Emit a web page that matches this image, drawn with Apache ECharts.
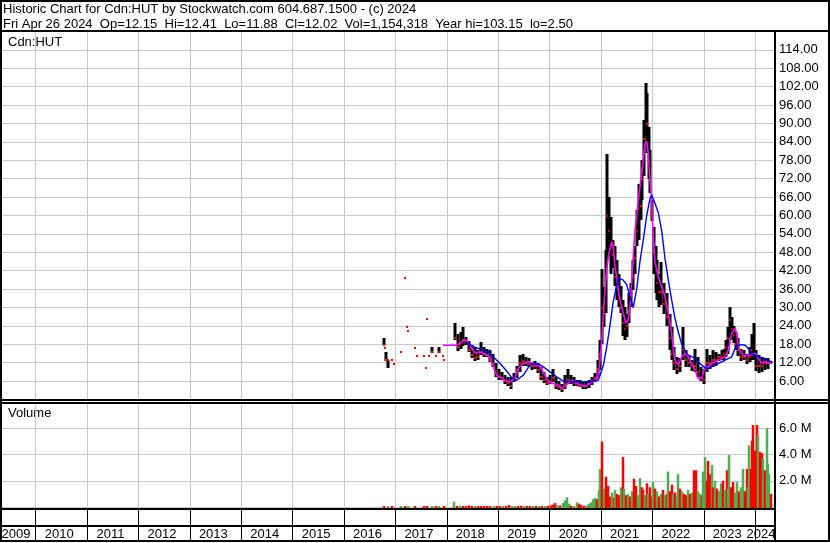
<!DOCTYPE html>
<html><head><meta charset="utf-8">
<script src="https://cdn.jsdelivr.net/npm/echarts@6/dist/echarts.min.js"></script>
<style>html,body{margin:0;padding:0;background:#fff}#c{width:830px;height:543px}</style>
</head><body><div id="c"></div>
<script>
// ---------------- DATA ----------------
const yearTicks = [2009,2010,2011,2012,2013,2014,2015,2016,2017,2018,2019,2020,2021,2022,2023,2024];
const priceTickLabels = [6,12,18,24,30,36,42,48,54,60,66,72,78,84,90,96,102,108,114];
const volTickLabels = [2,4,6];

// price bars: date (decimal year), low, high, close
const barDates = [2016.786,2016.799,2016.813,2016.852,2016.863,2016.930,2016.984,2017.111,2017.188,2017.221,2017.253,2017.383,2017.416,2017.558,2017.597,2017.617,2017.655,2017.720,2017.786,2017.850,2017.922,2017.947,
2018.162,2018.220,2018.278,2018.317,2018.376,2018.434,2018.492,2018.551,2018.609,2018.668,2018.726,2018.784,2018.843,2018.901,2018.960,
2019.018,2019.076,2019.135,2019.193,2019.251,2019.310,2019.368,2019.427,2019.485,2019.543,2019.602,2019.660,2019.719,2019.777,2019.835,2019.894,2019.952,
2020.011,2020.069,2020.127,2020.186,2020.244,2020.302,2020.361,2020.419,2020.478,2020.536,2020.594,2020.653,2020.711,2020.769,2020.828,2020.886,2020.945,2020.984,
2021.023,2021.062,2021.101,2021.130,2021.159,2021.198,2021.237,2021.276,2021.315,2021.354,2021.393,2021.431,2021.470,2021.509,2021.548,2021.587,2021.626,2021.665,2021.704,2021.743,2021.782,2021.811,2021.840,2021.879,2021.908,2021.937,2021.966,2021.995,
2022.034,2022.073,2022.103,2022.132,2022.171,2022.229,2022.287,2022.346,2022.385,2022.424,2022.482,2022.541,2022.599,2022.657,2022.716,2022.774,2022.833,2022.891,2022.949,
2023.008,2023.066,2023.124,2023.183,2023.241,2023.300,2023.358,2023.397,2023.436,2023.475,2023.514,2023.553,2023.592,2023.631,2023.670,2023.728,2023.787,2023.845,2023.903,2023.942,2023.981,
2024.020,2024.079,2024.137,2024.195,2024.254,2024.320];
const barLow = [17.7,16.7,12.6,13.0,10.4,13.0,11.5,15.5,39.7,23.7,22.4,16.8,14.3,14.3,10.4,26.3,14.3,15.0,14.3,15.2,14.3,12.9,
19.4,16.1,16.5,17.2,17.7,15.5,13.5,12.3,12.8,14.5,13.9,13.9,12,10.7,7.4,
6.5,6.3,5.2,4.5,3.6,5.5,7,9,11.2,11,10.5,9.6,10,8.5,6.3,5.5,4.7,
5,5.8,3.5,3.1,2.5,3.5,5,5,4.5,4.5,3.9,3.6,3.5,4,4.7,5.5,7.4,9.6,
18.3,23.7,28.1,45.5,47,41.1,43,36.8,32.4,30.2,28.1,20.5,19.4,20.5,24.8,30.2,35.7,41,49.8,52,58.5,65,72.6,85.7,80.2,72,67.2,58,
41.1,34.6,32.4,30.2,31,28,23.7,16.1,12.8,9.6,8.5,9,12.8,10.7,10.7,9.5,9,7.4,6,
5.2,9,10,10.5,11,12.8,12.8,12.8,13.9,15,20,19.4,18.3,16,14,12.8,12.8,11.8,12,13,12.8,
9,8.5,9,9.5,9.8,11.88];
const barHigh = [19.9,16.7,15.5,13.0,13.0,13.0,11.5,15.5,39.7,23.7,22.4,16.8,14.3,14.3,10.4,26.3,14.3,17.0,14.3,17.0,14.3,12.9,
25.1,21.5,22,23.5,20.4,19,17.7,17,16.1,18.8,17,16.6,16,15,12,
10,9,8,7.5,7.4,8.5,11,14.5,15,14,13.4,12.3,12.5,11.8,10.7,9,7.4,
8,10.1,7.4,6,5.2,8,10,8,7.5,6.5,6.3,5.8,5.8,6.5,7.4,8.5,12.8,19.4,
42.7,36.8,48.7,80.2,66.1,59.6,52,50,45.5,41,37,32.4,30.2,28,34.6,37.9,45.5,50,61.7,70.4,69,78,91,103.15,99.8,88.9,81.3,65,
56.3,50,45.5,41,45,38,34.6,28,23.7,17,14,13.5,23.7,16.1,14.5,13,16.6,14,10.5,
10,16.6,14.5,16,15.5,15,16,16.5,19.5,23.7,30.2,27,24,22,20,16.6,16,15,17,21.5,24.8,
16,14.5,14,13.5,13.5,12.41];
const barClose = [17.7,16.7,13.0,13.0,13.0,13.0,11.5,15.5,39.7,23.7,22.4,16.8,14.3,14.3,10.4,26.3,14.3,15.5,14.3,15.5,14.3,12.9,
20,17,18,19.5,19,16,14.5,13.5,14,15.5,15,14.5,13,11.5,8.5,
7.5,7,6,5.5,4.5,7,9.5,12,12.5,12,11.5,11,11,9.5,7.5,6.5,5.5,
6,7,4.5,4,3.5,5,6.5,6,5.5,5,4.5,4.5,4.5,5,6,7,10,15,
30,28,40,60,55,50,47,40,38,33,30,25,23,24,29,34,40,46,55,62,63,72,85,95,90,78,72,60,
48,42,38,35,35,31,27,20,15,12,10,11,16,13,12,11,11,9,7,
6.5,12,12,13,13,14,14,15,17,20,26,23,21,18,16,14,14,13,14,16,15,
11,11,11,12,12,12.02];

// short moving average (magenta)
const maFastDates = [2017.928,2018.162,2018.200,2018.259,2018.356,2018.420,2018.487,2018.551,2018.648,2018.779,2018.843,2018.907,2018.973,
2019.037,2019.135,2019.232,2019.329,2019.394,2019.491,2019.588,2019.685,2019.816,2019.913,2019.977,
2020.075,2020.172,2020.238,2020.302,2020.367,2020.433,2020.497,2020.594,2020.692,2020.789,2020.886,2020.925,2020.974,
2021.023,2021.062,2021.101,2021.149,2021.211,2021.243,2021.276,2021.309,2021.340,2021.373,2021.437,2021.490,2021.534,2021.568,2021.601,2021.632,2021.665,2021.698,2021.729,2021.762,2021.826,2021.860,2021.893,2021.924,2021.957,2021.990,
2022.021,2022.054,2022.118,2022.185,2022.249,2022.313,2022.379,2022.410,2022.443,2022.508,2022.574,2022.638,2022.702,2022.768,2022.833,2022.897,2022.963,
2023.027,2023.091,2023.158,2023.222,2023.286,2023.352,2023.417,2023.481,2023.547,2023.611,2023.644,2023.676,2023.742,2023.806,2023.870,2023.936,
2024.000,2024.065,2024.131,2024.195,2024.259,2024.320];
const maFastVals = [17.7,17.7,18.3,18.3,19.6,18.8,16.6,15.2,15.5,14.5,13.9,10.7,7.9,
7.4,6.3,5.8,6.8,10.1,11.8,12.3,11.8,10.7,7.9,5.8,
5.2,4.7,3.6,4.3,5.4,6.3,5.8,4.7,4.3,5.2,6.3,6.5,11,
20,31,40,47,51.4,49.8,43.3,40,35.7,32.4,28.1,24.8,26,30,38,47,55,59.6,65,69.4,78,83.5,84.2,80.2,71.5,65,
53,45,40,36.8,33.5,28.1,21.5,16.5,12.8,11.2,13.9,15,13.9,11.8,9.6,6.8,6.8,
10.7,10.7,11.8,12.3,12.8,13.4,13.9,16.1,21.5,23.2,21.5,17.2,15,14,14.5,14.5,
15,13.4,11.8,12.3,11.8,11.8];

// long moving average (blue)
const maSlowDates = [2018.389,2018.518,2018.712,2018.843,2018.940,2019.037,2019.168,2019.265,2019.362,2019.491,2019.621,2019.685,2019.783,2019.880,
2020.011,2020.141,2020.269,2020.464,2020.789,2020.951,2021.048,2021.114,2021.178,2021.243,2021.340,2021.431,2021.503,2021.568,2021.632,2021.698,2021.762,2021.826,2021.893,2021.957,2021.990,
2022.054,2022.118,2022.185,2022.249,2022.313,2022.379,2022.443,2022.508,2022.574,2022.638,2022.702,2022.833,2022.963,
2023.027,2023.091,2023.158,2023.286,2023.417,2023.547,2023.611,2023.676,2023.742,2023.806,2023.870,2023.936,2024.065,2024.195,2024.320];
const maSlowVals = [18.8,17.2,16.1,15.2,13.4,11.8,9.3,7.2,6.3,7.9,11.2,11.8,11.5,10.7,
9.0,7.4,6.0,5.8,5.8,6.3,11,17,24,32,39.5,39,37.5,33.5,30,36,45,52,60,65.5,66.7,
64,61,55,46,39,32.4,26.5,22,18,16,14.5,13.4,11.2,
10.4,10.1,10.7,11.8,12.8,13.9,16.6,17.7,17.9,17.7,16.6,15,13.9,13.4,12.3];

// volume (millions) and up(1)/down(0) flag
const volDates = [2016.79,2016.86,2016.93,2017.11,2017.19,2017.25,2017.38,2017.56,2017.62,2017.72,2017.79,2017.85,2017.95,
2018.148,2018.200,2018.259,2018.317,2018.376,2018.434,2018.492,2018.551,2018.609,2018.668,2018.726,2018.784,2018.843,2018.921,2018.979,
2019.037,2019.096,2019.154,2019.213,2019.271,2019.329,2019.388,2019.446,2019.504,2019.563,2019.621,2019.680,2019.738,2019.796,2019.855,2019.913,2019.972,
2020.030,2020.069,2020.108,2020.147,2020.205,2020.263,2020.302,2020.341,2020.380,2020.419,2020.478,2020.536,2020.575,2020.614,2020.672,2020.731,2020.770,2020.809,2020.847,2020.886,2020.925,2020.964,2020.993,
2021.017,2021.042,2021.071,2021.100,2021.139,2021.178,2021.217,2021.256,2021.285,2021.315,2021.354,2021.392,2021.425,2021.460,2021.490,2021.529,2021.568,2021.607,2021.651,2021.684,2021.723,2021.762,2021.795,2021.826,2021.860,2021.893,2021.928,2021.957,2021.986,
2022.021,2022.054,2022.093,2022.132,2022.171,2022.210,2022.249,2022.287,2022.313,2022.346,2022.379,2022.414,2022.443,2022.482,2022.508,2022.541,2022.580,2022.619,2022.657,2022.696,2022.735,2022.774,2022.819,2022.852,2022.891,2022.930,2022.969,2022.994,
2023.027,2023.066,2023.091,2023.124,2023.154,2023.183,2023.222,2023.261,2023.300,2023.339,2023.378,2023.417,2023.450,2023.475,2023.500,2023.533,2023.572,2023.611,2023.650,2023.689,2023.728,2023.773,2023.806,2023.838,2023.864,2023.890,2023.913,2023.936,2023.967,
2024.000,2024.033,2024.065,2024.098,2024.131,2024.162,2024.195,2024.228,2024.247,2024.276,2024.312];
const volVals = [0.03,0.02,0.02,0.02,0.03,0.02,0.02,0.02,0.03,0.02,0.02,0.03,0.02,
0.41,0.08,0.1,0.05,0.08,0.12,0.06,0.05,0.06,0.05,0.06,0.05,0.04,0.06,0.05,
0.05,0.06,0.06,0.15,0.08,0.08,0.06,0.1,0.06,0.06,0.05,0.05,0.06,0.05,0.05,0.07,0.1,
0.12,0.18,0.3,0.15,0.12,0.3,0.5,0.74,0.25,0.1,0.08,0.35,0.25,0.15,0.1,0.12,0.25,0.35,0.6,0.7,0.6,1.3,2.9,
5.0,1.0,1.4,2.3,1.6,0.8,1.1,0.7,1.3,1.0,0.9,1.5,3.8,1.4,0.9,1.0,0.8,1.2,2.15,1.6,0.9,2.2,1.5,1.3,0.9,1.8,1.0,1.5,0.8,
1.9,1.4,1.2,0.8,1.0,1.3,0.9,1.0,2.7,1.2,1.7,1.0,1.1,0.8,2.5,1.4,1.2,1.0,0.9,1.3,1.0,1.1,2.8,2.8,1.2,1.0,0.9,2.7,
3.8,2.0,3.5,2.5,3.2,1.5,2.0,1.4,1.2,1.8,2.0,1.3,2.8,1.4,3.95,1.5,1.9,1.1,1.9,1.2,1.5,2.9,1.2,2.9,1.5,4.7,2.9,5.05,6.25,
4.3,6.25,5.5,4.2,4.1,3.7,2.8,6.0,3.3,2.5,1.0];
const volUp = [0,1,0,1,0,1,0,0,0,1,0,1,0,
1,0,1,0,0,0,0,1,0,0,0,0,0,1,0,
0,1,0,0,1,1,0,0,1,0,0,1,0,1,0,1,0,
0,0,0,1,0,1,1,1,1,0,1,1,0,0,0,1,1,1,1,1,0,1,1,
0,0,1,0,0,0,1,0,1,0,0,1,0,1,0,1,0,1,0,0,1,1,0,0,1,0,1,0,0,
1,0,1,0,1,0,1,0,1,0,0,1,0,1,1,0,1,0,0,1,0,1,0,0,1,1,0,1,
1,0,0,0,1,0,1,0,1,1,0,1,0,1,1,0,0,1,1,0,1,1,0,0,1,1,0,0,0,
0,0,1,0,0,1,0,1,1,1,0];

// ---------------- CHART ----------------
const X_MIN = 2009.31, X_MAX = 2024.37;
const FONT = 'Arial, "Liberation Sans", sans-serif';
const chart = echarts.init(document.getElementById('c'), null, {renderer: 'canvas'});

const priceData = barDates.map((d, i) => [d, barLow[i], barHigh[i], barClose[i]]);
const volData = volDates.map((d, i) => [d, volVals[i], volUp[i]]);
const fastData = maFastDates.map((d, i) => [d, maFastVals[i]]);
const slowData = maSlowDates.map((d, i) => [d, maSlowVals[i]]);
const gridYears = yearTicks.slice(1);

function yearGridRender(params, api) {
  const cs = params.coordSys;
  const x = Math.round(api.coord([api.value(0), 0])[0]) + 0.5;
  return {type: 'line', shape: {x1: x, y1: cs.y, x2: x, y2: cs.y + cs.height},
          style: {stroke: '#c8c8c8', lineWidth: 1}};
}

const xAxisBase = {type: 'value', min: X_MIN, max: X_MAX, show: false, splitLine: {show: false}};

chart.setOption({
  animation: false,
  backgroundColor: '#fff',
  grid: [
    {left: 0, top: 31.5, width: 774, height: 368, outerBoundsMode: 'none'},
    {left: 0, top: 402, width: 774, height: 105, outerBoundsMode: 'none'},
    {left: 0, top: 509, width: 774, height: 32, outerBoundsMode: 'none'}
  ],
  xAxis: [
    Object.assign({gridIndex: 0}, xAxisBase),
    Object.assign({gridIndex: 1}, xAxisBase),
    Object.assign({gridIndex: 2}, xAxisBase)
  ],
  yAxis: [
    {gridIndex: 0, type: 'value', position: 'right', min: 0, max: 120, interval: 6,
     axisLine: {show: false}, axisTick: {show: false},
     splitLine: {show: true, lineStyle: {color: '#c8c8c8', width: 1}},
     axisLabel: {show: true, inside: false, margin: 5, align: 'left', color: '#000', fontSize: 13, fontFamily: FONT,
       formatter: v => priceTickLabels.indexOf(v) >= 0 ? v.toFixed(2) : ''}},
    {gridIndex: 1, type: 'value', position: 'right', min: 0, max: 8, interval: 2,
     axisLine: {show: false}, axisTick: {show: false},
     splitLine: {show: true, lineStyle: {color: '#c8c8c8', width: 1}},
     axisLabel: {show: true, margin: 5, align: 'left', color: '#000', fontSize: 13, fontFamily: FONT,
       formatter: v => volTickLabels.indexOf(v) >= 0 ? v.toFixed(1) + ' M' : ''}},
    {gridIndex: 2, type: 'value', min: 0, max: 1, show: false}
  ],
  series: [
    {type: 'custom', xAxisIndex: 0, yAxisIndex: 0, z: 1, silent: true, data: gridYears.map(y => [y]),
     renderItem: yearGridRender, encode: {x: 0}},
    {type: 'custom', xAxisIndex: 1, yAxisIndex: 1, z: 1, silent: true, data: gridYears.map(y => [y]),
     renderItem: yearGridRender, encode: {x: 0}},
    {type: 'custom', name: 'price', xAxisIndex: 0, yAxisIndex: 0, z: 3, silent: true, data: priceData,
     encode: {x: 0, y: [1, 2]},
     renderItem: function (params, api) {
       const d = api.value(0);
       const pH = api.coord([d, api.value(2)]);
       const pL = api.coord([d, api.value(1)]);
       const pC = api.coord([d, api.value(3)]);
       const xs = Math.round(pH[0]) - 1;
       const children = [];
       if (pL[1] - pH[1] > 0.5) {
         children.push({type: 'rect', shape: {x: xs - 0.5, y: Math.round(pH[1]), width: 3, height: Math.max(1, Math.round(pL[1] - pH[1]))},
                        style: {fill: '#000'}});
       }
       children.push({type: 'rect', shape: {x: xs, y: Math.round(pC[1]) - 1, width: 2, height: 2}, style: {fill: '#ff0000'}});
       return {type: 'group', children: children};
     }},
    {type: 'line', name: 'MA short', xAxisIndex: 0, yAxisIndex: 0, z: 4, data: fastData, showSymbol: false,
     lineStyle: {color: '#ff00ff', width: 1.6}, silent: true},
    {type: 'line', name: 'MA long', xAxisIndex: 0, yAxisIndex: 0, z: 5, data: slowData, showSymbol: false,
     lineStyle: {color: '#0000ff', width: 1.4}, silent: true},
    {type: 'custom', name: 'volume', xAxisIndex: 1, yAxisIndex: 1, z: 3, silent: true, data: volData,
     encode: {x: 0, y: 1},
     renderItem: function (params, api) {
       const d = api.value(0);
       const p0 = api.coord([d, 0]);
       const p1 = api.coord([d, api.value(1)]);
       const h = Math.max(1, p0[1] - p1[1]);
       return {type: 'rect', shape: {x: Math.round(p0[0]) - 1.25, y: p0[1] - h, width: 2.5, height: h + 2},
               style: {fill: api.value(2) ? '#4caf50' : '#ff0000'}};
     }},
    {type: 'custom', name: 'years', xAxisIndex: 2, yAxisIndex: 2, z: 6, silent: true, data: yearTicks.map(y => [y]),
     encode: {x: 0},
     renderItem: function (params, api) {
       const cs = params.coordSys;
       const y = api.value(0);
       const children = [];
       if (y > X_MIN) {
         const x = Math.round(api.coord([y, 0])[0]) + 0.5;
         children.push({type: 'line', shape: {x1: x, y1: cs.y, x2: x, y2: cs.y + cs.height}, style: {stroke: '#000', lineWidth: 1}});
       }
       let cx = api.coord([y + 0.5, 0])[0] - 2;
       cx = Math.max(cs.x + 16, Math.min(cs.x + cs.width - 13, cx));
       children.push({type: 'text', style: {text: String(y), x: cx, y: cs.y + 25, align: 'center', verticalAlign: 'middle',
                      fontSize: 13, fontFamily: FONT, fill: '#000'}});
       return {type: 'group', children: children};
     }}
  ],
  graphic: [
    {type: 'text', left: 3, top: 3, silent: true, style: {text: 'Historic Chart for Cdn:HUT by Stockwatch.com 604.687.1500 - (c) 2024', fontSize: 13, fontFamily: FONT, fill: '#000'}},
    {type: 'text', left: 3, top: 18, silent: true, style: {text: 'Fri Apr 26 2024  Op=12.15  Hi=12.41  Lo=11.88  Cl=12.02  Vol=1,154,318  Year hi=103.15  lo=2.50', fontSize: 13, fontFamily: FONT, fill: '#000'}},
    {type: 'text', left: 8, top: 36, silent: true, style: {text: 'Cdn:HUT', fontSize: 13, fontFamily: FONT, fill: '#000'}},
    {type: 'text', left: 8, top: 407, silent: true, style: {text: 'Volume', fontSize: 13, fontFamily: FONT, fill: '#000'}},
    {type: 'rect', silent: true, z: 100, shape: {x: 1, y: 1, width: 828, height: 540}, style: {fill: 'none', stroke: '#000', lineWidth: 2}},
    {type: 'line', silent: true, z: 100, shape: {x1: 0, y1: 31, x2: 830, y2: 31}, style: {stroke: '#000', lineWidth: 2}},
    {type: 'line', silent: true, z: 100, shape: {x1: 775, y1: 31, x2: 775, y2: 542}, style: {stroke: '#000', lineWidth: 2}},
    {type: 'line', silent: true, z: 100, shape: {x1: 0, y1: 400, x2: 830, y2: 400}, style: {stroke: '#000', lineWidth: 2}},
    {type: 'line', silent: true, z: 100, shape: {x1: 0, y1: 403, x2: 830, y2: 403}, style: {stroke: '#000', lineWidth: 2}},
    {type: 'line', silent: true, z: 100, shape: {x1: 0, y1: 509, x2: 775, y2: 509}, style: {stroke: '#000', lineWidth: 2}},
    {type: 'line', silent: true, z: 100, shape: {x1: 0, y1: 526, x2: 775, y2: 526}, style: {stroke: '#000', lineWidth: 2}}
  ]
});
</script></body></html>
